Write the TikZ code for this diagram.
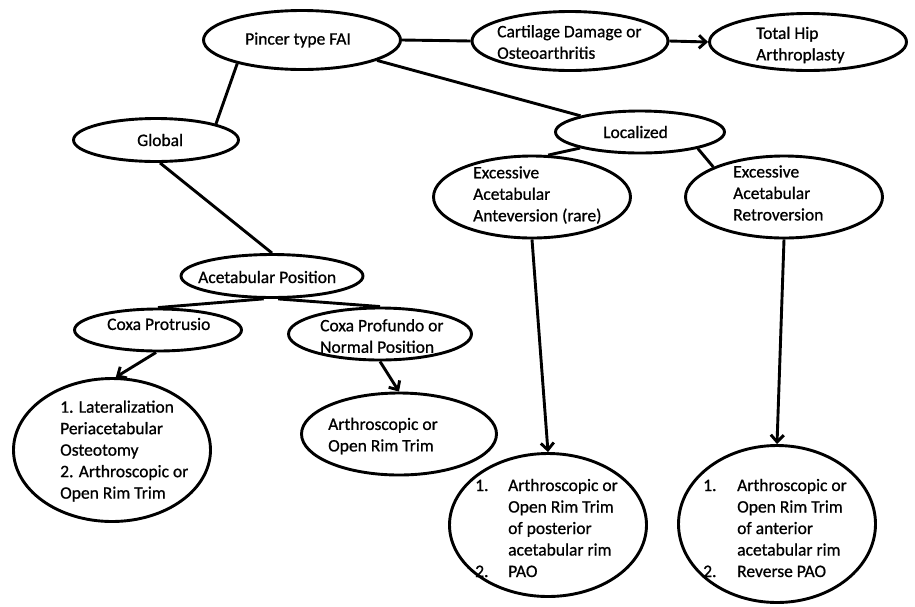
\documentclass[tikz,border=0pt]{standalone}
\usepackage{fontspec}
\setmainfont{Carlito}[FakeBold=0.8]
\usetikzlibrary{shapes.geometric,arrows.meta}
\begin{document}
\begin{tikzpicture}[x=1pt,y=-1pt,
  ell/.style={ellipse,draw,line width=2.9pt,inner sep=0pt},
  txt/.style={inner sep=0pt,anchor=west,align=left,font=\fontsize{17.5}{21.5}\selectfont},
  con/.style={line width=2.9pt},
  arr/.style={line width=2.9pt,-{Straight Barb[length=7pt,width=13pt]}}]
\path[fill=white] (0,0) rectangle (915,606);
\useasboundingbox (0,0) rectangle (915,606);
% ellipses
\node[ell,minimum width=197pt,minimum height=59pt] (pincer) at (302,40) {};
\node[ell,minimum width=196pt,minimum height=59pt] (cart) at (570,41) {};
\node[ell,minimum width=197pt,minimum height=57pt] (thip) at (808,42) {};
\node[ell,minimum width=169pt,minimum height=42pt] (local) at (640,132) {};
\node[ell,minimum width=165pt,minimum height=43pt] (global) at (156,140) {};
\node[ell,minimum width=182pt,minimum height=43pt] (acet) at (272,276) {};
\node[ell,minimum width=197pt,minimum height=82pt] (ante) at (532,197) {};
\node[ell,minimum width=197pt,minimum height=82pt] (retro) at (784,197) {};
\node[ell,minimum width=167pt,minimum height=42pt] (protr) at (158,330) {};
\node[ell,minimum width=183pt,minimum height=52pt] (prof) at (380,334) {};
\node[ell,minimum width=197pt,minimum height=143pt] (lat) at (112,450) {};
\node[ell,minimum width=195pt,minimum height=82pt] (arth) at (399,434) {};
\node[ell,minimum width=197pt,minimum height=143pt] (post) at (548,525) {};
\node[ell,minimum width=197pt,minimum height=157pt] (ant) at (777,524) {};
% texts
\node[txt] (pincerT) at (245,40) {Pincer type FAI};
\node[txt] (cartT) at (497,42) {Cartilage Damage or\\Osteoarthritis};
\node[txt] (thipT) at (756,45) {Total Hip\\Arthroplasty};
\node[txt] (localT) at (603,132) {Localized};
\node[txt] (globalT) at (137,140) {Global};
\node[txt] (acetT) at (198,277) {Acetabular Position};
\node[txt] (anteT) at (473,195) {Excessive\\Acetabular\\Anteversion (rare)};
\node[txt] (retroT) at (733,193) {Excessive\\Acetabular\\Retroversion};
\node[txt] (protrT) at (107,324) {Coxa Protrusio};
\node[txt] (profT) at (320,336) {Coxa Profundo or\\Normal Position};
\node[txt] (latT) at (60,451) {1. Lateralization\\Periacetabular\\Osteotomy\\2. Arthroscopic or\\Open Rim Trim};
\node[txt] (arthT) at (328,436) {Arthroscopic or\\Open Rim Trim};
\node[txt] (postT) at (475,528) {\makebox[33pt][l]{1.}Arthroscopic or\\\hspace*{33pt}Open Rim Trim\\\hspace*{33pt}of posterior\\\hspace*{33pt}acetabular rim\\\makebox[33pt][l]{2.}PAO};
\node[txt] (antT) at (703,528) {\makebox[34pt][l]{1.}Arthroscopic or\\\hspace*{34pt}Open Rim Trim\\\hspace*{34pt}of anterior\\\hspace*{34pt}acetabular rim\\\makebox[34pt][l]{2.}Reverse PAO};
% connectors
\draw[con] (pincer.east) -- (cart.west);
\draw[arr] (cart.east) -- (thip.west);
\draw[con] (pincer.200) -- (global.15);
\draw[con] (pincer) -- (local);
\draw[con] (global.280) -- (acet.north);
\draw[con] (local.195) -- (ante.69);
\draw[con] (local.344) -- (retro.157);
\draw[con] (acet.250) -- (protr.north);
\draw[con] (acet.285) -- (prof.north);
\draw[arr] (protr.265) -- (lat.87);
\draw[arr] (prof.south) -- (arth.north);
\draw[arr] (ante.south) -- (post.north);
\draw[arr] (retro.south) -- (ant.north);
\end{tikzpicture}
\end{document}
